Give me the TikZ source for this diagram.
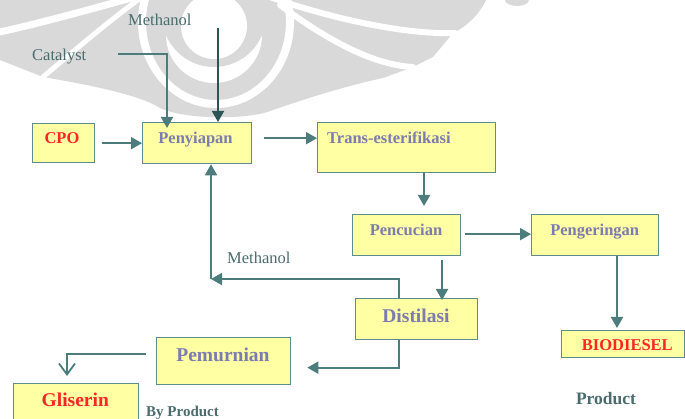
\documentclass[tikz,border=0pt]{standalone}
\usepackage{fontspec}
\setmainfont{Liberation Serif}
\usetikzlibrary{arrows.meta,calc}

\definecolor{wmgray}{HTML}{D9D9D9}
\definecolor{boxfill}{HTML}{FFFFA3}
\definecolor{boxline}{HTML}{5F8C8C}
\definecolor{flow}{HTML}{4C7C7C}
\definecolor{flowdark}{HTML}{2B5555}
\definecolor{stepink}{HTML}{7C7CAE}
\definecolor{hotred}{HTML}{FF2626}
\definecolor{feedink}{HTML}{4A6C6C}

\begin{document}
\begin{tikzpicture}[x=1pt,y=-1pt,
  stagebox/.style={draw=boxline, line width=1.3pt, fill=boxfill, inner sep=0pt, anchor=north west},
  steptxt/.style={font=\fontsize{16.5}{18}\selectfont\bfseries, text=stepink, inner sep=0pt, anchor=base},
  bigtxt/.style={font=\fontsize{19.5}{22}\selectfont\bfseries, text=stepink, inner sep=0pt, anchor=base},
  feedtxt/.style={font=\fontsize{16.5}{18}\selectfont, text=feedink, inner sep=0pt, anchor=base west},
  roletxt/.style={font=\fontsize{15}{17}\selectfont\bfseries, text=feedink, inner sep=0pt},
  flowarrow/.style={draw=flow, line width=1.8pt, -{Triangle[length=11pt,width=12pt]}},
  openarrow/.style={draw=flow, line width=1.8pt, -{Straight Barb[length=11pt,width=16pt]}},
]
\useasboundingbox (0,0) rectangle (685,419);
\fill[white] (0,0) rectangle (685,419);

% faint emblem in the background
\begin{scope}
  \fill[wmgray] (0,-2) -- (0,60) -- (43,77)
    .. controls (90,85) and (140,95) .. (160,108)
    .. controls (185,120) and (250,120) .. (273,110)
    .. controls (310,97) and (350,85) .. (383,78)
    -- (413,67) -- (433,57) -- (453,33)
    .. controls (470,25) and (482,10) .. (487,-2) -- cycle;
  \fill[wmgray] (517,0) ellipse (12 and 6);
  \begin{scope}[draw=white, line cap=round]
    \draw[line width=7pt] (0,32) .. controls (45,22) and (95,8) .. (135,-3);
    \draw[line width=5pt] (43,77) .. controls (75,50) and (110,20) .. (142,-3);
    \draw[line width=8pt] (216,22) ellipse (74 and 82);
    \draw[line width=6pt] (270,-3) .. controls (320,15) and (400,35) .. (455,33);
    \draw[line width=6pt] (280,5) .. controls (320,35) and (370,65) .. (413,67);
  \end{scope}
  \fill[white] (214,35) circle (48);
  \fill[wmgray] (214,15) circle (52);
  \fill[white] (214,26) circle (33);
\end{scope}

% process stages
\node[stagebox, minimum width=62pt, minimum height=39pt] (cpo) at (32,123) {};
\node[stagebox, minimum width=109pt, minimum height=41pt] (pen) at (142,122) {};
\node[stagebox, minimum width=178pt, minimum height=50pt] (trans) at (317,122) {};
\node[stagebox, minimum width=108pt, minimum height=41pt] (pencu) at (352,214) {};
\node[stagebox, minimum width=127pt, minimum height=41pt] (penge) at (531,214) {};
\node[stagebox, minimum width=122pt, minimum height=41pt] (dist) at (355,298) {};
\node[stagebox, minimum width=134pt, minimum height=47pt] (pemur) at (156,337) {};
\node[stagebox, minimum width=125pt, minimum height=50pt] (glis) at (13,383) {};
\node[stagebox, minimum width=123pt, minimum height=27pt] (bio) at (561,330) {};

% stage labels
\node[steptxt, text=hotred] (cpo-t) at (62,143.3) {CPO};
\node[steptxt] (pen-t) at (195.5,143.5) {Penyiapan};
\node[steptxt, anchor=base west] (trans-t) at (327,144) {Trans-esterifikasi};
\node[steptxt] (pencu-t) at (406,235.7) {Pencucian};
\node[steptxt] (penge-t) at (594.7,235.7) {Pengeringan};
\node[bigtxt] (dist-t) at (416,322.7) {Distilasi};
\node[bigtxt] (pemur-t) at (223,361.7) {Pemurnian};
\node[bigtxt, text=hotred] (glis-t) at (75.3,406.7) {Gliserin};
\node[steptxt, text=hotred] (bio-t) at (627.3,350) {BIODIESEL};

% feed and output labels
\node[feedtxt] (meoh-t) at (128,25.7) {Methanol};
\node[feedtxt] (cat-t) at (32,60.7) {Catalyst};
\node[feedtxt] (rec-t) at (227,264) {Methanol};
\node[roletxt, anchor=base west] (byp-t) at (146,416.7) {By Product};
\node[roletxt, anchor=base, font=\fontsize{17.5}{19}\selectfont\bfseries] (prod-t) at (606,404) {Product};

% feeds into Penyiapan
\coordinate (cat-end) at (118,54.3);
\draw[flowarrow] (cat-end) -| ($(pen.north west)+(25,6)$);
\coordinate (meoh-in) at (218,28);
\draw[flowarrow, draw=flowdark] (meoh-in) -- (meoh-in |- pen.north);
\draw[flowarrow] ($(cpo.east)+(7,0)$) -- (pen.west |- cpo.east);

% main line
\coordinate (pt) at ($(pen.east)+(12,-5)$);
\draw[flowarrow] (pt) -- (pt -| trans.west);
\coordinate (tp) at ($(trans.south west)+(107,0)$);
\draw[flowarrow] (tp) -- ($(tp |- pencu.north)+(0,-8)$);
\coordinate (pp) at ($(pencu.east)+(4,-1)$);
\draw[flowarrow] (pp) -- (pp -| penge.west);
\coordinate (pd) at ($(pencu.south west)+(90,4)$);
\draw[flowarrow] (pd) -- ($(pd |- dist.north)+(0,2)$);
\coordinate (pb) at ($(penge.south west)+(86,0)$);
\draw[flowarrow] (pb) -- ($(pb |- bio.north)+(0,-2)$);

% methanol recycle
\coordinate (dr) at ($(dist.north west)+(44,0)$);
\coordinate (recyc) at (211,279);
\draw[flowarrow] (dr) |- (recyc);
\draw[flowarrow] (recyc) -- (recyc |- pen.south);

% glycerol side stream
\coordinate (dp) at ($(dist.south west)+(44,0)$);
\draw[flowarrow] (dp) |- ($(pemur.east)+(16,6.5)$);
\coordinate (pg) at ($(pemur.west)+(-10,-7.5)$);
\draw[openarrow] (pg) -| ($(glis.north west)+(54,-7)$);
\end{tikzpicture}
\end{document}
